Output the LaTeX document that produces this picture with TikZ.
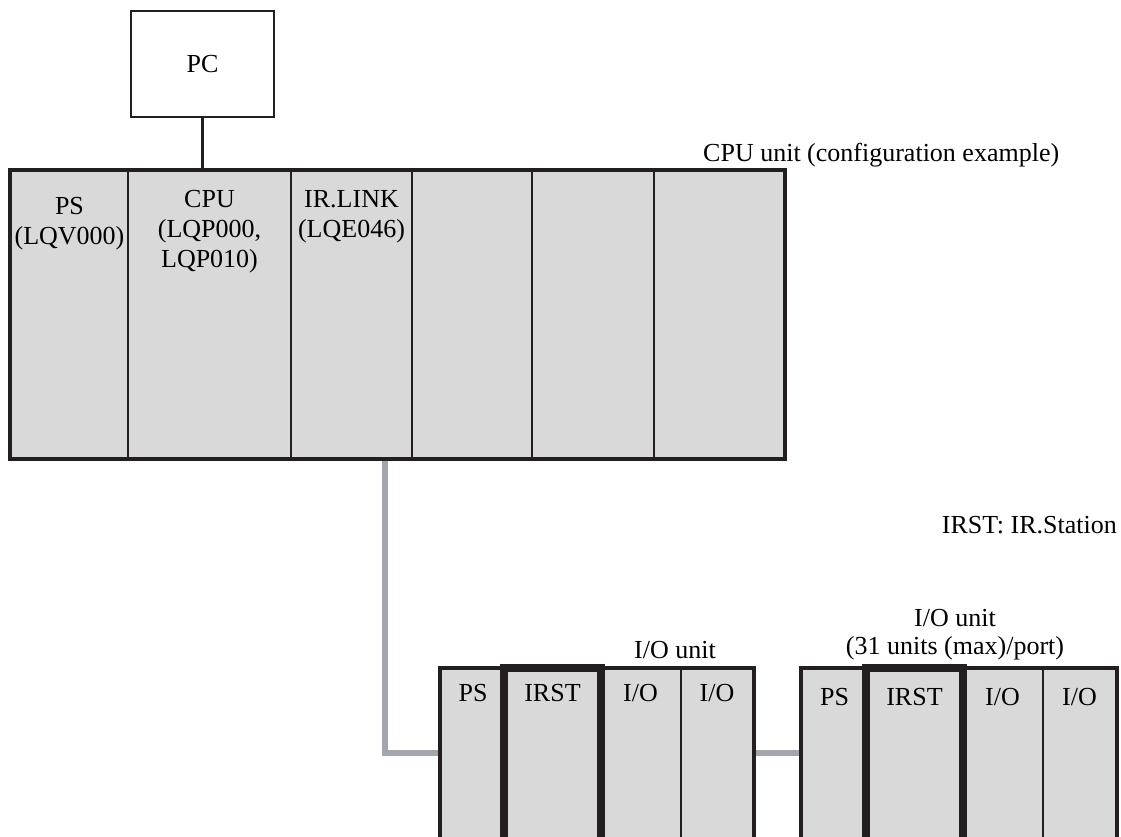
\documentclass[tikz,border=0pt]{standalone}
\usepackage{fontspec}
\setmainfont{Liberation Serif}
\usetikzlibrary{positioning,backgrounds}

\definecolor{slotgray}{HTML}{D9D9D9}
\definecolor{cablegray}{HTML}{A1A7AD}
\definecolor{inkblack}{HTML}{231F20}

\tikzset{
  slot/.style={draw=inkblack, line width=2pt, fill=slotgray, anchor=north west, inner sep=0pt},
  slottext/.style={inner sep=0pt, align=center},
  rackframe/.style={draw=inkblack, line width=3.2pt},
  irstframe/.style={draw=inkblack, line width=7.6pt},
  cable/.style={draw=cablegray, line width=6.5pt},
  link/.style={draw=inkblack, line width=2.2pt}
}

\begin{document}
\begin{tikzpicture}[x=1pt, y=-1pt, font=\fontsize{26}{30}\selectfont]
	\useasboundingbox (0,0) rectangle (1121,837);
	
	% PC
	\node[draw=inkblack, line width=2.4pt, minimum width=143pt, minimum height=106pt, inner sep=0pt] (pc) at (202.5,64) {PC};
	
	% CPU unit
	\foreach \name/\x/\w in {ps/10/117, cpu/127/163, irlink/290/121, slotd/411/120, slote/531/122, slotf/653/130}
	\node[slot, minimum width=\w pt, minimum height=287pt] (\name) at (\x,170) {};
	\draw[rackframe] (ps.north west) rectangle (slotf.south east);
	\node[slottext, below=27pt of ps.north] {PS\\(LQV000)};
	\node[slottext, below=20pt of cpu.north] {CPU\\(LQP000,\\LQP010)};
	\node[slottext, below=20pt of irlink.north] {IR.LINK\\(LQE046)};
	\node[anchor=base west, inner sep=0pt] (cpuunit) at (703,162) {CPU unit (configuration example)};
	\draw[link] (pc.south) -- (pc.south |- cpu.north);
	
	% I/O unit 1
	\foreach \name/\x/\w in {psa/440/64, irsta/504/95, ioa/599/81, iob/680/72}
	\node[slot, minimum width=\w pt, minimum height=180pt] (\name) at (\x,668) {};
	\draw[rackframe] (psa.north west) rectangle (iob.south east);
	\draw[irstframe] (irsta.north west) rectangle (irsta.south east);
	\foreach \name/\txt in {psa/PS, irsta/IRST, ioa/I\slash O, iob/I\slash O}
	\node[slottext, below=16pt of \name.north] {\txt};
	\node[anchor=base, inner sep=0pt] (iounita) at (675,658) {I/O unit};
	
	% I/O unit 2
	\foreach \name/\x/\w in {psb/801/65, irstb/866/95, ioc/961/81, iod/1042/73}
	\node[slot, minimum width=\w pt, minimum height=180pt] (\name) at (\x,668) {};
	\draw[rackframe] (psb.north west) rectangle (iod.south east);
	\draw[irstframe] (irstb.north west) rectangle (irstb.south east);
	\foreach \name/\txt in {psb/PS, irstb/IRST, ioc/I\slash O, iod/I\slash O}
	\node[slottext, below=20pt of \name.north] {\txt};
	\node[slottext, anchor=north, font=\fontsize{26}{28}\selectfont] (iounitb) at (955,609) {I/O unit\\(31 units (max)/port)};
	
	\node[anchor=base east, inner sep=0pt] (irstnote) at (1117,533) {IRST: IR.Station};
	
	% cables
	\coordinate (tap) at (385,457);
	\coordinate (bend) at (385,753);
	\begin{scope}[on background layer]
		\draw[cable] (tap) -- (bend) -- (bend -| psa.west);
		\draw[cable] (bend -| iob.east) -- (bend -| psb.west);
	\end{scope}
	
\end{tikzpicture}
\end{document}
